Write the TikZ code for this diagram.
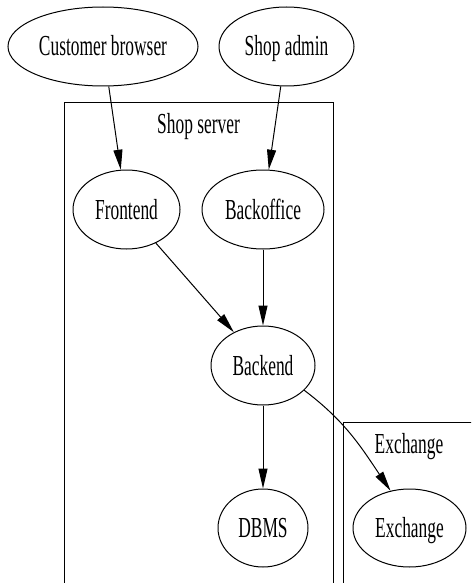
\documentclass[tikz,border=0pt]{standalone}
\usepackage{fontspec}
\setmainfont{Liberation Serif}
\usetikzlibrary{shapes.geometric,arrows.meta}
\newcommand{\gvtxt}[1]{\scalebox{0.6}[1]{#1}}
\begin{document}
\begin{tikzpicture}[x=1pt,y=-1pt,
  gvnode/.style={ellipse,draw,line width=1pt,inner sep=0pt,
    font=\fontsize{29}{29}\selectfont,text height=19pt,text depth=0pt},
  gvlabel/.style={inner sep=0pt,anchor=base,font=\fontsize{29}{29}\selectfont},
  gvedge/.style={draw,line width=1pt,-{Triangle[length=20pt,width=9pt]}},
  cluster/.style={draw,line width=1pt}]
\useasboundingbox (0,0) rectangle (471,583);
\clip (0,0) rectangle (471,583);
% clusters
\draw[cluster] (64.3,600) rectangle (333.3,102.7);
\node[gvlabel] (shopserverlbl) at (198.5,133) {\gvtxt{Shop server}};
\draw[cluster] (343.3,600) rectangle (490,422);
\node[gvlabel] (exchangelbl) at (409,453) {\gvtxt{Exchange}};
% nodes
\node[gvnode,minimum width=190pt,minimum height=79pt] (cust) at (103,46.5) {\gvtxt{Customer browser}};
\node[gvnode,minimum width=135pt,minimum height=79pt] (admin) at (286.5,46.5) {\gvtxt{Shop admin}};
\node[gvnode,minimum width=107pt,minimum height=79pt] (front) at (126.5,209.5) {\gvtxt{Frontend}};
\node[gvnode,minimum width=122pt,minimum height=79pt] (backoffice) at (263,209.5) {\gvtxt{Backoffice}};
\node[gvnode,minimum width=104pt,minimum height=79pt] (backend) at (263,365.5) {\gvtxt{Backend}};
\node[gvnode,minimum width=90pt,minimum height=78pt] (dbms) at (263,528) {\gvtxt{DBMS}};
\node[gvnode,minimum width=113pt,minimum height=78pt] (exch) at (409.5,528) {\gvtxt{Exchange}};
% edges
\path[gvedge] (cust) -- (front);
\path[gvedge] (admin) -- (backoffice);
\path[gvedge] (front) -- (backend);
\path[gvedge] (backoffice) -- (backend);
\path[gvedge] (backend) -- (dbms);
\path[gvedge] (backend.-31) to[out=-37,in=124] (exch.117);
\end{tikzpicture}
\end{document}
